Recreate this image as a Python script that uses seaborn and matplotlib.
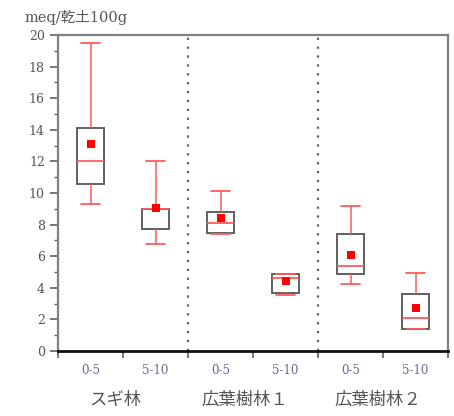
import numpy as np
import pandas as pd
import matplotlib
matplotlib.use("Agg")
import matplotlib.pyplot as plt
import seaborn as sns
from matplotlib.ticker import MultipleLocator

# ---- data ----
groups = ["スギ林", "広葉樹林１", "広葉樹林２"]
depths = ["0-5", "5-10"]
keys = ["A_0-5", "A_5-10", "B_0-5", "B_5-10", "C_0-5", "C_5-10"]
whisker_low = [9.3, 6.8, 7.4, 3.55, 4.25, 1.37]
q1 = [10.6, 7.7, 7.5, 3.7, 4.9, 1.37]
median = [12.0, 9.0, 8.1, 4.6, 5.4, 2.1]
q3 = [14.1, 9.0, 8.8, 4.87, 7.4, 3.6]
whisker_high = [19.5, 12.0, 10.15, 4.9, 9.2, 4.95]
means = [13.1, 9.05, 8.4, 4.4, 6.1, 2.75]
tick_labels = ["0-5", "5-10", "0-5", "5-10", "0-5", "5-10"]
y_label = "meq/乾土100g"

# five-number data: with 5 points, percentiles 0/25/50/75/100 land on them
rows = []
for k, a, b, c, d, e in zip(keys, whisker_low, q1, median, q3, whisker_high):
    for v in (a, b, c, d, e):
        rows.append({"key": k, "value": v})
df = pd.DataFrame(rows)
mean_df = pd.DataFrame({"key": keys, "value": means})

sns.set_style("white")
plt.rcParams["font.family"] = ["DejaVu Serif", "Noto Sans CJK JP"]

fig = plt.figure(figsize=(4.54, 4.16), dpi=100)
ax = fig.add_axes([0.1278, 0.1562, 0.8590, 0.7597])

red = "#ff5a5a"
sns.boxplot(data=df, x="key", y="value", order=keys, whis=np.inf, width=0.43,
            color="white", linecolor="#606060", linewidth=1.4, fliersize=0,
            capwidths=0.3,
            boxprops=dict(facecolor="white", edgecolor="#606060"),
            whiskerprops=dict(color=red, linewidth=1.1),
            capprops=dict(color=red, linewidth=1.3),
            medianprops=dict(color=red, linewidth=1.3),
            ax=ax)
sns.stripplot(data=mean_df, x="key", y="value", order=keys, jitter=False,
              marker="s", color="red", size=6, linewidth=0, ax=ax, zorder=5)

ax.set_xlim(-0.5, 5.5)
ax.set_ylim(0, 20)
ax.set_xlabel("")
ax.set_ylabel("")

# group separators
for xv in (1.5, 3.5):
    ax.axvline(xv, color="#606060", linestyle=(0, (1, 3)), linewidth=1.6, zorder=0)

# y ticks
ax.yaxis.set_major_locator(MultipleLocator(2))
ax.yaxis.set_minor_locator(MultipleLocator(1))
ax.tick_params(axis="y", which="major", direction="out", length=6, width=1.2,
               color="#606060", labelsize=9, labelcolor="#555555", left=True)
ax.tick_params(axis="y", which="minor", direction="out", length=3, width=1.0,
               color="#606060", left=True)

# x ticks: marks at boundaries, labels at centers
ax.set_xticks(np.arange(6))
ax.set_xticklabels(tick_labels)
ax.set_xticks(np.arange(-0.5, 6.0, 1.0), minor=True)
ax.tick_params(axis="x", which="major", length=0, labelsize=8.5, labelcolor="#6a6a8a", pad=9)
ax.tick_params(axis="x", which="minor", direction="out", length=5, width=1.2,
               color="#606060", bottom=True)

for side in ("left", "top", "right"):
    ax.spines[side].set_color("#808080")
    ax.spines[side].set_linewidth(1.6)
    ax.spines[side].set_visible(True)
ax.spines["bottom"].set_color("#111111")
ax.spines["bottom"].set_linewidth(2.0)

# group labels
for xpos, g in zip([0.38, 2.38, 4.42], groups):
    ax.text(xpos, -0.155, g, transform=ax.get_xaxis_transform(), ha="center", va="center",
            fontsize=12.5, color="#555555", family=["Noto Sans CJK JP", "DejaVu Sans"])

fig.text(0.055, 0.958, y_label, ha="left", va="center", fontsize=10.5, color="#555555",
         family=["DejaVu Serif", "Noto Sans CJK JP"])

fig.savefig("out.png", dpi=100)
